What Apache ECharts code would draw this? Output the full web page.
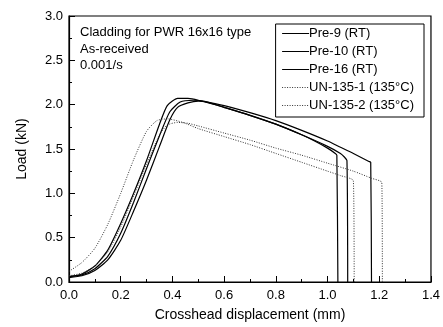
<!DOCTYPE html>
<html>
<head>
<meta charset="utf-8">
<script src="https://cdn.jsdelivr.net/npm/echarts@6/dist/echarts.min.js"></script>
<style>html,body{margin:0;padding:0;background:#fff}#c{width:443px;height:327px}</style>
</head>
<body>
<div id="c"></div>
<script>
const seriesNames = ['Pre-9 (RT)', 'Pre-10 (RT)', 'Pre-16 (RT)', 'UN-135-1 (135°C)', 'UN-135-2 (135°C)'];
const xTicks = [0, 0.2, 0.4, 0.6, 0.8, 1.0, 1.2, 1.4];
const yTicks = [0, 0.5, 1.0, 1.5, 2.0, 2.5, 3.0];
const annotation = ['Cladding for PWR 16x16 type', 'As-received', '0.001/s'];

const pre9 = [[0,0.06],[0.05,0.09],[0.1,0.18],[0.15,0.36],[0.2,0.66],[0.25,1.0],[0.3,1.37],[0.35,1.78],[0.38,1.99],[0.42,2.07],[0.46,2.07],[0.5,2.05],[0.6,1.97],[0.7,1.88],[0.8,1.78],[0.9,1.66],[0.95,1.59],[1.0,1.51],[1.03,1.45],[1.036,1.43],[1.04,0]];
const pre10 = [[0,0.06],[0.05,0.08],[0.1,0.15],[0.15,0.29],[0.2,0.55],[0.25,0.9],[0.3,1.28],[0.35,1.65],[0.39,1.92],[0.43,2.03],[0.48,2.05],[0.52,2.04],[0.6,1.97],[0.7,1.88],[0.8,1.78],[0.9,1.66],[1.0,1.53],[1.05,1.45],[1.065,1.41],[1.075,1.37],[1.078,0]];
const pre16 = [[0,0.05],[0.05,0.07],[0.1,0.13],[0.15,0.25],[0.2,0.47],[0.25,0.8],[0.3,1.15],[0.35,1.53],[0.39,1.83],[0.42,1.97],[0.46,2.02],[0.5,2.04],[0.6,1.99],[0.7,1.91],[0.8,1.82],[0.9,1.71],[1.0,1.59],[1.05,1.52],[1.1,1.45],[1.16,1.36],[1.167,1.35],[1.17,0]];
const un1351 = [[0,0.12],[0.05,0.22],[0.1,0.38],[0.15,0.65],[0.2,1.0],[0.25,1.38],[0.3,1.7],[0.34,1.82],[0.38,1.84],[0.44,1.8],[0.5,1.73],[0.6,1.64],[0.7,1.55],[0.8,1.45],[0.9,1.35],[1.0,1.25],[1.05,1.2],[1.1,1.14],[1.103,0]];
const un1352 = [[0,0.07],[0.05,0.1],[0.1,0.18],[0.15,0.34],[0.2,0.62],[0.25,0.97],[0.3,1.33],[0.35,1.66],[0.38,1.77],[0.42,1.8],[0.46,1.79],[0.5,1.76],[0.6,1.68],[0.7,1.6],[0.8,1.51],[0.9,1.43],[1.0,1.34],[1.1,1.25],[1.17,1.17],[1.21,1.12],[1.212,0]];

const allData = [pre9, pre10, pre16, un1351, un1352];
const FONT = 'Liberation Sans, Arial, sans-serif';

const chart = echarts.init(document.getElementById('c'));
chart.setOption({
  animation: false,
  backgroundColor: '#fff',
  grid: { left: 69, right: 11, top: 16, bottom: 43, show: true, borderColor: '#000', borderWidth: 1.2, backgroundColor: 'transparent' },
  xAxis: {
    type: 'value', min: xTicks[0], max: xTicks[xTicks.length - 1], interval: 0.2,
    name: 'Crosshead displacement (mm)', nameLocation: 'middle', nameGap: 26,
    nameTextStyle: { fontFamily: FONT, fontSize: 14, color: '#000' },
    axisLine: { lineStyle: { color: '#000', width: 1.2 } },
    axisTick: { inside: true, length: 6, lineStyle: { color: '#000' } },
    minorTick: { show: true, splitNumber: 2, length: 3, lineStyle: { color: '#000' } },
    splitLine: { show: false },
    axisLabel: { fontFamily: FONT, fontSize: 13, color: '#000', margin: 7, formatter: v => v.toFixed(1) }
  },
  yAxis: {
    type: 'value', min: yTicks[0], max: yTicks[yTicks.length - 1], interval: 0.5,
    name: 'Load (kN)', nameLocation: 'middle', nameGap: 40,
    nameTextStyle: { fontFamily: FONT, fontSize: 14, color: '#000' },
    axisLine: { show: true, lineStyle: { color: '#000', width: 1.2 } },
    axisTick: { show: true, inside: true, length: 6, lineStyle: { color: '#000' } },
    minorTick: { show: true, splitNumber: 2, length: 3, lineStyle: { color: '#000' } },
    splitLine: { show: false },
    axisLabel: { fontFamily: FONT, fontSize: 13, color: '#000', margin: 6, formatter: v => v.toFixed(1) }
  },
  legend: {
    orient: 'vertical', right: 19, top: 24,
    data: seriesNames,
    borderColor: '#000', borderWidth: 1, backgroundColor: '#fff',
    padding: [3, 10, 5, 6], itemGap: 5, itemWidth: 27, itemHeight: 12,
    itemStyle: { opacity: 0, borderWidth: 0 },
    lineStyle: { width: 1 },
    textStyle: { fontFamily: FONT, fontSize: 13, color: '#000', padding: [0, 0, 0, -5] }
  },
  graphic: annotation.map((t, i) => ({
    type: 'text', left: 80, top: 26 + i * 16.5,
    style: { text: t, font: '13px ' + FONT, fill: '#000' }
  })),
  series: allData.map((d, i) => ({
    name: seriesNames[i], type: 'line', data: d, symbol: 'none', smooth: 0.2,
    lineStyle: i < 3 ? { color: '#000', width: 1.2, type: 'solid' } : { color: '#333', width: 1, type: [1, 1.5] },
    itemStyle: { color: i < 3 ? '#000' : '#333' }
  }))
});
</script>
</body>
</html>
